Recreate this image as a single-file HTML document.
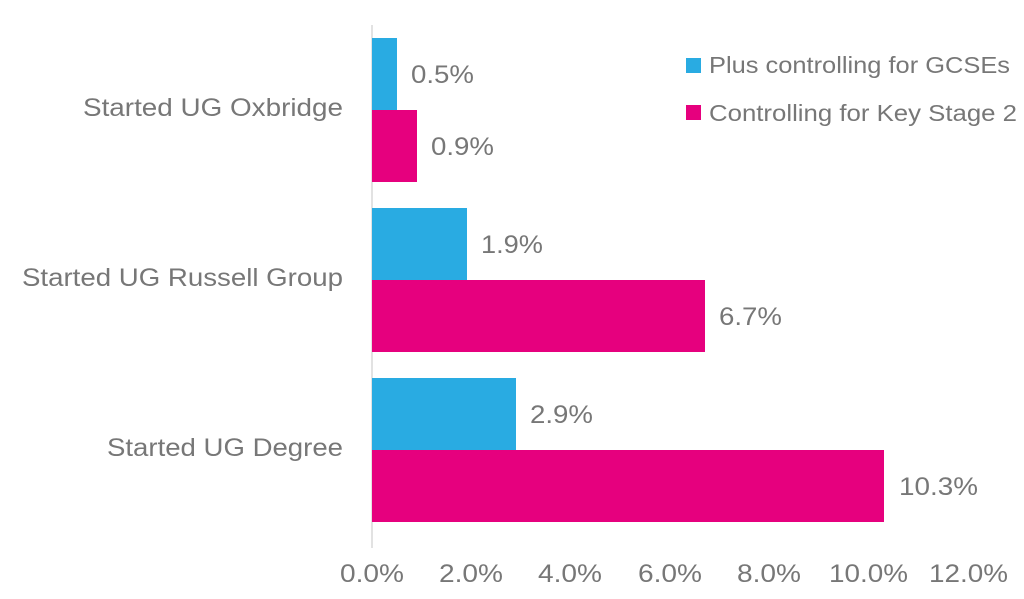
<!DOCTYPE html>
<html><head><meta charset="utf-8"><style>
body{margin:0;background:#fff;}
svg text{font-family:"Liberation Sans",sans-serif;fill:#777777;}
</style></head><body>
<svg width="1024" height="594" viewBox="0 0 1024 594" xmlns="http://www.w3.org/2000/svg">
<rect width="1024" height="594" fill="#fff"/>
<line x1="372" y1="25" x2="372" y2="548" stroke="#d9d9d9" stroke-width="1.5"/>
<g>
<rect x="372" y="38" width="25" height="72" fill="#29abe2"/>
<rect x="372" y="110" width="45" height="72" fill="#e6007e"/>
<rect x="372" y="208" width="95" height="72" fill="#29abe2"/>
<rect x="372" y="280" width="333" height="72" fill="#e6007e"/>
<rect x="372" y="378" width="144" height="72" fill="#29abe2"/>
<rect x="372" y="450" width="512" height="72" fill="#e6007e"/>
</g>
<g font-size="25" lengthAdjust="spacingAndGlyphs">
<text x="411" y="83" textLength="63" lengthAdjust="spacingAndGlyphs">0.5%</text>
<text x="431" y="155" textLength="63" lengthAdjust="spacingAndGlyphs">0.9%</text>
<text x="481" y="253" textLength="62" lengthAdjust="spacingAndGlyphs">1.9%</text>
<text x="719" y="325" textLength="63" lengthAdjust="spacingAndGlyphs">6.7%</text>
<text x="530" y="423" textLength="63" lengthAdjust="spacingAndGlyphs">2.9%</text>
<text x="899" y="495" textLength="79" lengthAdjust="spacingAndGlyphs">10.3%</text>
</g>
<g font-size="25">
<text x="83" y="116" textLength="260" lengthAdjust="spacingAndGlyphs">Started UG Oxbridge</text>
<text x="22" y="286" textLength="321" lengthAdjust="spacingAndGlyphs">Started UG Russell Group</text>
<text x="107" y="456" textLength="236" lengthAdjust="spacingAndGlyphs">Started UG Degree</text>
</g>
<g font-size="25">
<text x="340" y="582" textLength="64" lengthAdjust="spacingAndGlyphs">0.0%</text>
<text x="439" y="582" textLength="64" lengthAdjust="spacingAndGlyphs">2.0%</text>
<text x="538" y="582" textLength="64" lengthAdjust="spacingAndGlyphs">4.0%</text>
<text x="638" y="582" textLength="64" lengthAdjust="spacingAndGlyphs">6.0%</text>
<text x="737" y="582" textLength="64" lengthAdjust="spacingAndGlyphs">8.0%</text>
<text x="829" y="582" textLength="79" lengthAdjust="spacingAndGlyphs">10.0%</text>
<text x="929" y="582" textLength="79" lengthAdjust="spacingAndGlyphs">12.0%</text>
</g>
<rect x="686" y="58" width="15" height="15" fill="#29abe2"/>
<text x="709" y="73" font-size="23" textLength="301" lengthAdjust="spacingAndGlyphs">Plus controlling for GCSEs</text>
<rect x="686" y="105" width="15" height="15" fill="#e6007e"/>
<text x="709" y="121" font-size="23" textLength="308" lengthAdjust="spacingAndGlyphs">Controlling for Key Stage 2</text>
</svg>
</body></html>
